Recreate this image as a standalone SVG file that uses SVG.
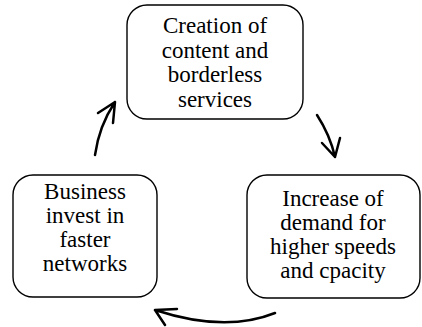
<svg xmlns="http://www.w3.org/2000/svg" width="422" height="327" viewBox="0 0 422 327">
<style>
.box{fill:#fff;stroke:#000;stroke-width:1.4}
.arr{fill:none;stroke:#000;stroke-width:2.5;stroke-linecap:round;stroke-linejoin:round}
</style>
<rect width="422" height="327" fill="#fff"/>
<g id="node-top">
<rect class="box" x="127" y="5" width="176" height="114" rx="20"/>
<text x="215" y="33" font-family="Liberation Serif" font-size="23" text-anchor="middle" fill="#000">Creation of</text>
<text x="215" y="58" font-family="Liberation Serif" font-size="23" text-anchor="middle" fill="#000">content and</text>
<text x="215" y="82" font-family="Liberation Serif" font-size="23" text-anchor="middle" fill="#000">borderless</text>
<text x="215" y="107" font-family="Liberation Serif" font-size="23" text-anchor="middle" fill="#000">services</text>
</g>
<g id="node-right">
<rect class="box" x="247" y="175" width="173" height="123" rx="20"/>
<text x="333" y="206" font-family="Liberation Serif" font-size="23" text-anchor="middle" fill="#000">Increase of</text>
<text x="333" y="230" font-family="Liberation Serif" font-size="23" text-anchor="middle" fill="#000">demand for</text>
<text x="333" y="254" font-family="Liberation Serif" font-size="23" text-anchor="middle" fill="#000">higher speeds</text>
<text x="333" y="278" font-family="Liberation Serif" font-size="23" text-anchor="middle" fill="#000">and cpacity</text>
</g>
<g id="node-left">
<rect class="box" x="13" y="175" width="144" height="122" rx="20"/>
<text x="85" y="199" font-family="Liberation Serif" font-size="23" text-anchor="middle" fill="#000">Business</text>
<text x="85" y="223" font-family="Liberation Serif" font-size="23" text-anchor="middle" fill="#000">invest in</text>
<text x="85" y="247" font-family="Liberation Serif" font-size="23" text-anchor="middle" fill="#000">faster</text>
<text x="85" y="271" font-family="Liberation Serif" font-size="23" text-anchor="middle" fill="#000">networks</text>
</g>
<g id="connectors">
<path class="arr" d="M95,155 Q99,126 115,102 M98,113 L115,102 L113,123"/>
<path class="arr" d="M317,115 Q330,135 335,157 M322,143 L335,157 L340,138"/>
<path class="arr" d="M275,313 Q225,333 155,310 M177,309 L155,310 L165,325"/>
</g>
</svg>
